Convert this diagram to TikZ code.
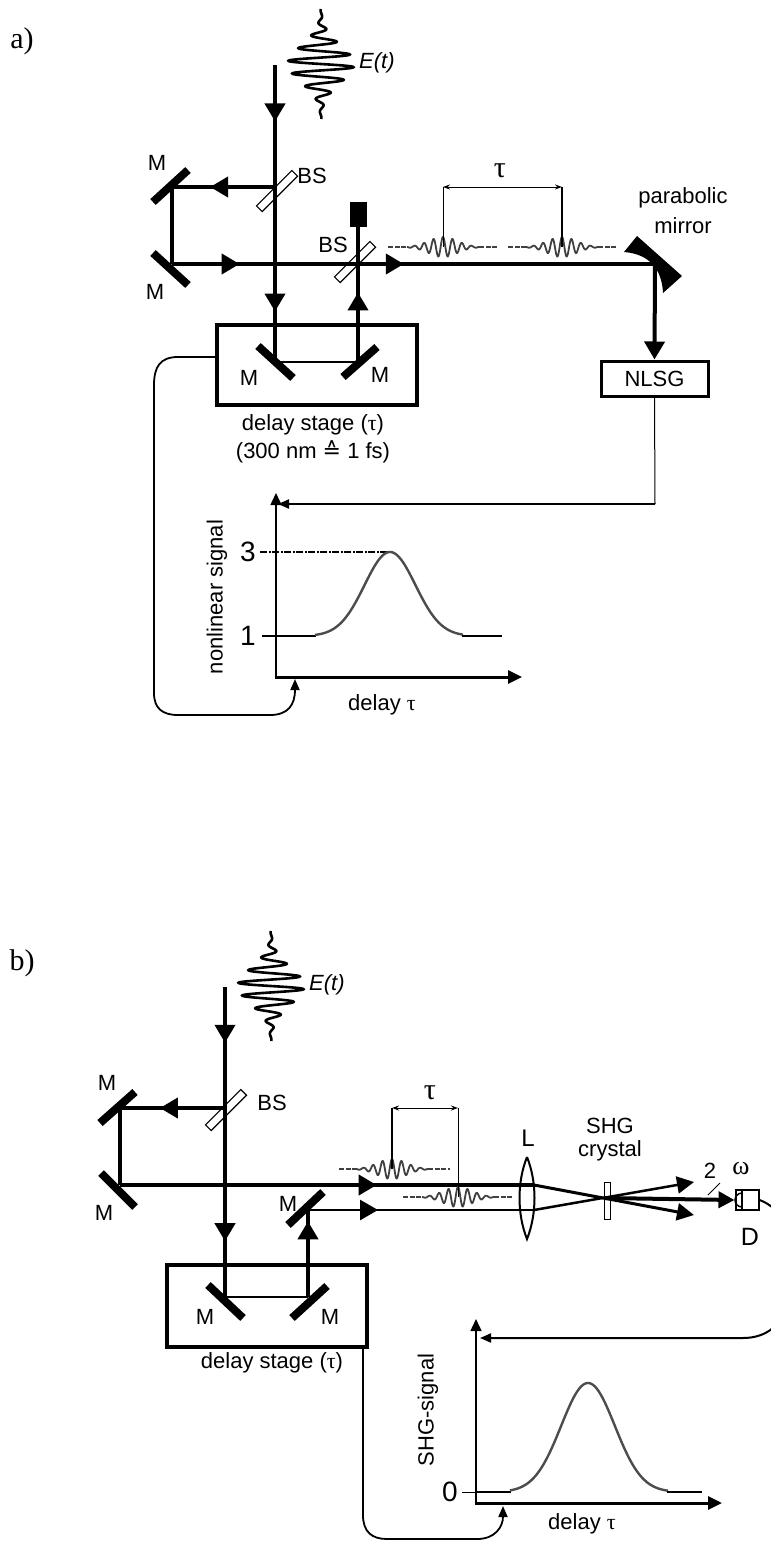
\documentclass[tikz,border=0pt]{standalone}
\usepackage{fontspec}
\setmainfont{Liberation Sans}
\newfontfamily\serifgreek{Liberation Serif}
\newfontfamily\symfont{DejaVu Sans}
\usetikzlibrary{arrows.meta,decorations.markings,calc}
\newcommand{\hpulse}[4]{%
  \draw[wave,dash pattern=on 5pt off 1.5pt] (#1,#4) -- (#2-36,#4);
  \draw[wave] plot[domain=#2-36:#2+36,samples=200,smooth] (\x,{#4-10*exp(-((\x-#2)/20)^2)*cos(38*(\x-#2))});
  \draw[wave,dash pattern=on 5pt off 1.5pt] (#2+36,#4) -- (#3,#4);
}
\newcommand{\vpulse}[2]{%
  \draw[line width=2.6pt] plot[domain=-55:55,samples=400,smooth] ({#1+33*exp(-(\x/26)^2)*sin(28*\x)},{#2+\x});
}
\begin{document}
\begin{tikzpicture}[x=1pt,y=-1pt,
  beam/.style={line width=4pt},
  thinbeam/.style={line width=2.5pt},
  mirror/.style={line width=8pt},
  marr/.style={postaction={decorate,decoration={markings,mark=at position #1 with {\arrow{Triangle[length=18pt,width=20pt]}}}}},
  plate/.style={draw,line width=1.2pt,fill=white,minimum width=50pt,minimum height=8pt,inner sep=0pt,rotate=45},
  lab/.style={inner sep=0pt,font=\fontsize{22}{26}\selectfont},
  big/.style={inner sep=0pt,font=\fontsize{28}{32}\selectfont},
  stagebox/.style={draw,line width=4pt,minimum width=200pt,minimum height=80pt,inner sep=0pt},
  wave/.style={line width=1.8pt,draw=black!75},
  curve/.style={line width=2.4pt,draw=black!70},
  link/.style={line width=1.8pt},
  sarr/.style={-{Triangle[length=11pt,width=9pt]}},
  tarr/.style={{Stealth[length=7pt,width=5pt]}-{Stealth[length=7pt,width=5pt]}}
]
\useasboundingbox (0,0) rectangle (771,1542);

%%%%%%%%%%%%%%%%%%%% PART a %%%%%%%%%%%%%%%%%%%%
\node[inner sep=0pt,font=\serifgreek\fontsize{30}{34}\selectfont] (lblA) at (22,41) {a)};

\vpulse{321}{64}
\node[lab,anchor=west,font=\fontsize{22}{26}\selectfont\itshape] (EtA) at (359,63) {E(t)};

\coordinate (inA) at (275,65);
\coordinate (bs1A) at (275,187);
\coordinate (m1A) at (172,187);
\coordinate (m2A) at (172,264);
\coordinate (bs2A) at (358,264);
\coordinate (dm1A) at (275,362);
\coordinate (dm2A) at (358,362);
\coordinate (dumpA) at (358,214);
\coordinate (pmA) at (655,264);

% beam splitters
\node[plate] (bsplate1A) at (277,191) {};
\node[plate] (bsplate2A) at (355,262) {};
\node[lab] at (312,176) {BS};
\node[lab] at (333,245) {BS};

% delay stage
\node[stagebox] (stageA) at (317,365) {};
\node[lab] at (313,425) {delay stage ({\serifgreek τ})};
\node[lab] at (313,452) {(300 nm {\symfont ≙} 1 fs)};

% mirrors
\draw[mirror] (153,202) -- (188,170);
\draw[mirror] (153,253) -- (188,285);
\draw[mirror] (258,346) -- (293,378);
\draw[mirror] (343,377) -- (377,347);
\node[lab] at (157,163) {M};
\node[lab] at (155,292) {M};
\node[lab] at (249,378) {M};
\node[lab] at (380,375) {M};

% beam dump
\fill (350,202) rectangle (367,227);

% beams
\draw[beam,marr=0.19,marr=0.83] (inA) -- (dm1A);
\draw[beam,marr=0.63] (bs1A) -- (m1A);
\draw[beam] (m1A) -- (m2A);
\draw[beam,marr=0.14,marr=0.48] (m2A) -- (pmA);
\draw[thinbeam] (dm1A) -- (dm2A);
\draw[beam,marr=0.47] (dm2A) -- (dumpA);

% pulses and tau
\hpulse{388}{443}{498}{247}
\hpulse{508}{562}{617}{247}
\draw[line width=1pt] (443,247) -- (443,187);
\draw[line width=1.8pt] (562,247) -- (562,187);
\draw[line width=1pt,tarr] (443,187) -- (562,187);
\node[inner sep=0pt,font=\serifgreek\fontsize{30}{34}\selectfont] at (500,171) {τ};

% parabolic mirror
\fill (637,236) -- (682,276) -- (663,293) .. controls (662,270) and (650,254) .. (624,252) -- cycle;
\node[lab] at (683,198) {parabolic};
\node[lab] at (683,226) {mirror};

% NLSG
\node[draw,line width=3pt,minimum width=107pt,minimum height=35pt,inner sep=0pt,font=\fontsize{22}{26}\selectfont] (nlsg) at (654.5,378.5) {NLSG};
\draw[beam,-{Triangle[length=18pt,width=20pt]}] (pmA) -- (nlsg.north);

% plot a
\coordinate (oA) at (276,677);
\draw[line width=1.5pt,-{Triangle[length=12pt,width=11pt]}] (oA) -- (276,493);
\draw[line width=3pt,-{Triangle[length=14pt,width=13pt]}] (274.5,677) -- (522,677);
\draw[line width=1pt] (nlsg.south) -- (655,504);
\draw[line width=2pt,sarr] (655,504) -- (278,504);
\node[big] at (248,552) {3};
\node[big] at (248,636) {1};
\draw[line width=2pt,dash pattern=on 7pt off 1.5pt on 2pt off 1.5pt] (260,552) -- (390,552);
\draw[line width=2.5pt] (262,636) -- (316,636);
\draw[curve] plot[domain=315:463,samples=120,smooth] (\x,{636-84*exp(-((\x-390)/36)^2)});
\draw[line width=2.5pt] (462,636) -- (502,636);
\node[lab,rotate=90] at (217,597) {nonlinear signal};
\node[lab] at (382,705) {delay {\serifgreek τ}};

% stage -> plot connector
\draw[link,sarr] ($(stageA.west)+(0,-8)$) -- (178,357) .. controls (160,357) and (154,367) .. (154,385) -- (154,693) .. controls (154,708) and (162,715) .. (178,715) -- (270,715) .. controls (288,715) and (295,705) .. (295,679);

%%%%%%%%%%%%%%%%%%%% PART b %%%%%%%%%%%%%%%%%%%%
\node[inner sep=0pt,font=\serifgreek\fontsize{30}{34}\selectfont] (lblB) at (22,963) {b)};

\vpulse{271}{986}
\node[lab,anchor=west,font=\fontsize{22}{26}\selectfont\itshape] (EtB) at (309,985) {E(t)};

\coordinate (inB) at (225,987);
\coordinate (bsB) at (225,1108);
\coordinate (m1B) at (120,1108);
\coordinate (m2B) at (120,1185);
\coordinate (dm1B) at (225,1297);
\coordinate (dm2B) at (308,1297);
\coordinate (m3B) at (308,1210);
\coordinate (lensUp) at (534,1185);
\coordinate (lensLo) at (534,1210);
\coordinate (xB) at (605,1198);
\coordinate (outLo) at (694,1215);
\coordinate (outUp) at (694,1182);

\node[plate] (bsplateB) at (226,1110) {};
\node[lab] at (272,1103) {BS};

\node[stagebox,minimum height=82pt] (stageB) at (267,1306) {};
\node[lab] at (272,1363) {delay stage ({\serifgreek τ})};

\draw[mirror] (100,1123) -- (135,1092);
\draw[mirror] (101,1173) -- (135,1207);
\draw[mirror] (208,1285) -- (243,1318);
\draw[mirror] (292,1318) -- (327,1286);
\draw[mirror] (288,1225) -- (323,1192);
\node[lab] at (107,1083) {M};
\node[lab] at (104,1213) {M};
\node[lab] at (205,1317) {M};
\node[lab] at (330,1317) {M};
\node[lab] at (288,1204) {M};

% beams
\draw[beam,marr=0.18,marr=0.82] (inB) -- (dm1B);
\draw[beam,marr=0.62] (bsB) -- (m1B);
\draw[beam] (m1B) -- (m2B);
\draw[beam,marr=0.62] (m2B) -- (lensUp);
\draw[thinbeam] (dm1B) -- (dm2B);
\draw[beam,marr=0.87] (dm2B) -- (m3B);
\draw[thinbeam,marr=0.31] (m3B) -- (lensLo);

% lens
\draw[line width=2pt] (527,1157) .. controls (517,1182) and (517,1214) .. (527,1239) .. controls (537,1214) and (537,1182) .. (527,1157);
\node[inner sep=0pt,font=\fontsize{24}{28}\selectfont] at (528,1138) {L};

% crystal
\draw[line width=1pt] (604,1182) rectangle (610,1219);
\node[lab] at (610,1126) {SHG};
\node[lab] at (610,1151) {crystal};

% converging beams
\draw[line width=3pt,-{Triangle[length=17pt,width=17pt]}] (lensUp) -- (outLo);
\draw[line width=2.5pt,-{Triangle[length=17pt,width=17pt]}] (lensLo) -- (outUp);
\node[draw,line width=2pt,minimum width=23pt,minimum height=20pt,inner sep=0pt] (det) at (747,1200) {};
\draw[beam,-{Triangle[length=16pt,width=16pt]}] (xB) -- (det.west);
\draw[line width=1.5pt] (742,1190) -- (742,1210);
\draw[line width=1.5pt] (742,1193) arc[start angle=-90,end angle=90,radius=-7pt];
\draw[line width=1pt] (708,1195) -- (720,1183);
\node[inner sep=0pt,font=\fontsize{22}{26}\selectfont] at (710,1171) {2};
\node[inner sep=0pt,font=\serifgreek\fontsize{26}{30}\selectfont] at (741,1169) {ω};
\node[inner sep=0pt,font=\fontsize{25}{29}\selectfont] at (750,1237) {D};

% pulses and tau
\hpulse{339}{392}{450}{1169}
\hpulse{403}{458}{513}{1197}
\draw[line width=1.8pt] (392,1169) -- (392,1108);
\draw[line width=1pt] (458,1197) -- (458,1108);
\draw[line width=1pt,tarr] (392,1108) -- (458,1108);
\node[inner sep=0pt,font=\serifgreek\fontsize{30}{34}\selectfont] at (430,1093) {τ};

% plot b
\coordinate (oB) at (476,1503);
\draw[line width=1.5pt,-{Triangle[length=12pt,width=11pt]}] (oB) -- (476,1319);
\draw[line width=3pt,-{Triangle[length=14pt,width=13pt]}] (474.5,1503) -- (722,1503);
\draw[line width=2pt,sarr] (det.east) .. controls (768,1203) and (784,1212) .. (786,1235) -- (786,1300) .. controls (784,1325) and (766,1338) .. (743,1338) -- (480,1338);
\node[big] at (450,1492) {0};
\draw[line width=1pt] (462,1492) -- (476,1492);
\draw[line width=2.5pt] (476,1492) -- (511,1492);
\draw[curve] plot[domain=510:668,samples=120,smooth] (\x,{1492-109*exp(-((\x-588)/38)^2)});
\draw[line width=2.5pt] (667,1492) -- (702,1492);
\node[lab,rotate=90] at (428,1410) {SHG-signal};
\node[lab] at (582,1524) {delay {\serifgreek τ}};

\draw[link,sarr] (stageB.south -| 363,0) -- (363,1515) .. controls (363,1532) and (372,1539) .. (387,1539) -- (477,1539) .. controls (495,1539) and (503,1527) .. (503,1506);
\end{tikzpicture}
\end{document}
